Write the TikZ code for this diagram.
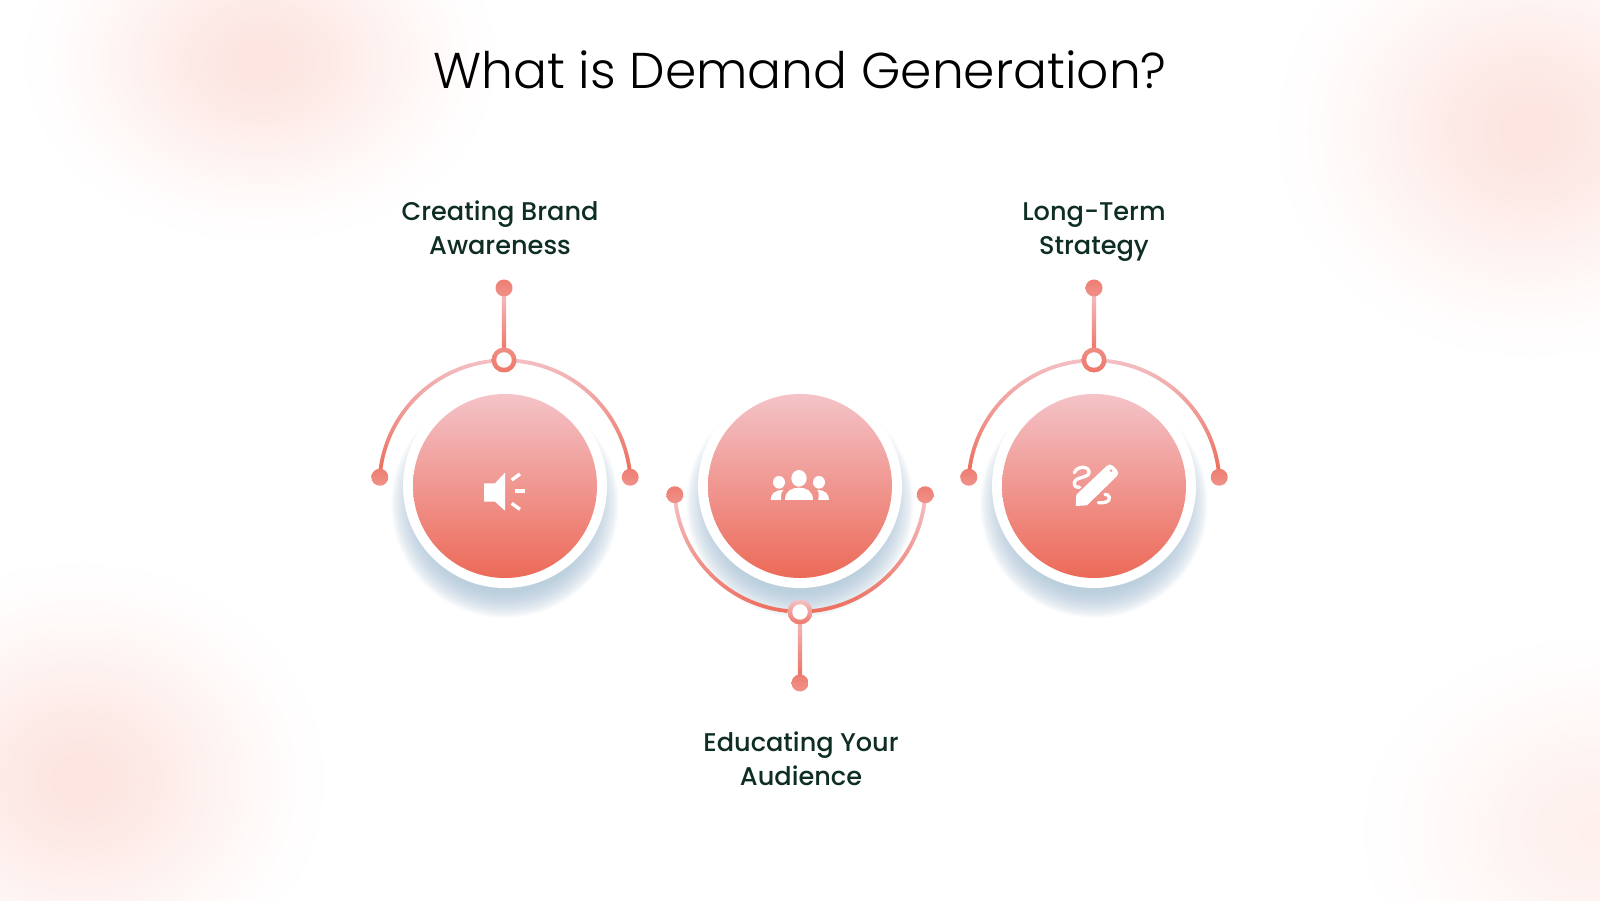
\documentclass[tikz,border=0pt]{standalone}
\usepackage{fontspec}
\setmainfont{Poppins}
\newfontfamily\titlefont{Poppins Light}
\newfontfamily\labelfont{Poppins Medium}
\usetikzlibrary{calc}
\definecolor{lt}{HTML}{F4C3C8}
\definecolor{dk}{HTML}{EC6A58}
\definecolor{ink}{HTML}{0F2E22}
\definecolor{blobA}{HTML}{FDE5E1}
\definecolor{blobB}{HTML}{FEF0ED}
\definecolor{shadowc}{HTML}{A9C3D8}
\newcommand{\bellstops}[1]{color(0bp)=(#1); color(2.5bp)=(#1!96!white); color(5bp)=(#1!88!white); color(7.5bp)=(#1!76!white); color(10bp)=(#1!60!white); color(12.5bp)=(#1!45!white); color(15bp)=(#1!31!white); color(17.5bp)=(#1!18!white); color(20bp)=(#1!8!white); color(22.5bp)=(#1!2!white); color(25bp)=(white); color(50bp)=(white)}
\pgfdeclareradialshading{bellA}{\pgfpoint{0bp}{0bp}}{\bellstops{blobA}}
\pgfdeclareradialshading{bellB}{\pgfpoint{0bp}{0bp}}{\bellstops{blobB}}
\pgfdeclarelayer{bottom}
\pgfdeclarelayer{stems}
\pgfsetlayers{bottom,stems,main}
\tikzset{
  x=1pt,y=1pt,
  titletext/.style={font=\titlefont\fontsize{50.3}{60}\selectfont, text=black, inner sep=0pt},
  labeltext/.style={font=\labelfont\fontsize{25.6}{34}\selectfont, text=ink, align=center, inner sep=0pt},
  disc/.style={circle, minimum size=184pt, inner sep=0pt, top color=lt, bottom color=dk},
  hub/.style={circle, minimum size=25pt, inner sep=0pt, top color=#1, bottom color=dk!85!lt},
  hubhole/.style={circle, minimum size=15.5pt, inner sep=0pt, fill=white},
  enddot/.style={circle, minimum size=17pt, inner sep=0pt, top color=dk!78!lt, bottom color=dk!55!lt},
  icon/.style={fill=white, draw=none},
  iconline/.style={draw=white, line width=3.2pt, fill=none},
  barstyle/.style={top color=lt, bottom color=dk},
}
% soft shadow under a disc, then the white ring
\newcommand{\halo}[1]{%
  \foreach \r in {114,113,...,88}{\fill[shadowc, fill opacity=.042] ($(#1)+(0,-18)$) circle (\r);}
  \fill[white] (#1) circle (102);
}
\begin{document}
\begin{tikzpicture}
\useasboundingbox (0,0) rectangle (1600,900);
\begin{pgfonlayer}{bottom}
\fill[white] (0,0) rectangle (1600,900);
\begin{scope}
\clip (0,0) rectangle (1600,900);
\path[shading=bellA] (260,840) ellipse (260 and 200);
\path[shading=bellA] (1530,770) ellipse (280 and 250);
\path[shading=bellA] (80,120) ellipse (270 and 240);
\path[shading=bellB] (1600,70) ellipse (270 and 220);
\end{scope}
\end{pgfonlayer}

\coordinate (c1) at (505,414);
\coordinate (c2) at (800,414);
\coordinate (c3) at (1094,414);
\begin{pgfonlayer}{bottom}
\halo{c1}\halo{c2}\halo{c3}
\end{pgfonlayer}

\node[disc] (d1) at (c1) {};
\node[disc] (d2) at (c2) {};
\node[disc] (d3) at (c3) {};

% end dots and hubs
\node[enddot] (l1) at ($(c1)+(176:125.5)$) {};
\node[enddot] (r1) at ($(c1)+(4:125.5)$) {};
\node[enddot] (l2) at ($(c2)+(-176:125.5)$) {};
\node[enddot] (r2) at ($(c2)+(-4:125.5)$) {};
\node[enddot] (l3) at ($(c3)+(176:125.5)$) {};
\node[enddot] (r3) at ($(c3)+(4:125.5)$) {};
\node[enddot] (t1) at (504,612) {};
\node[enddot] (t2) at (800,217) {};
\node[enddot] (t3) at (1094,612) {};
\node[hub=dk!60!lt] (h1) at (504,540) {};
\node[hubhole] (h1i) at (h1) {};
\node[hub=lt] (h2) at (800,288) {};
\node[hubhole] (h2i) at (h2) {};
\node[hub=dk!60!lt] (h3) at (1094,540) {};
\node[hubhole] (h3i) at (h3) {};

\begin{pgfonlayer}{stems}
% stems
\path[barstyle] ($(t1.center)+(-2.2,0)$) rectangle ($(h1.center)+(2.2,0)$);
\path[barstyle] ($(h2.center)+(-2.2,0)$) rectangle ($(t2.center)+(2.2,0)$);
\path[barstyle] ($(t3.center)+(-2.2,0)$) rectangle ($(h3.center)+(2.2,0)$);
% upper arcs
\foreach \c in {c1,c3}{
  \path[barstyle]
    ($(\c)+(4:127.5)$) arc[start angle=4,end angle=176,radius=127.5]
    -- ($(\c)+(176:123.7)$) arc[start angle=176,end angle=4,radius=123.7] -- cycle;
}
% lower arc
\path[barstyle]
  ($(c2)+(-4:127.5)$) arc[start angle=-4,end angle=-176,radius=127.5]
  -- ($(c2)+(-176:123.7)$) arc[start angle=-176,end angle=-4,radius=123.7] -- cycle;
\end{pgfonlayer}

% speaker icon
\begin{scope}[shift={(460,450)}, x=.3333pt, y=-.3333pt]
  \fill[icon] (72,100) -- (105,100) -- (135,68) -- (135,182) -- (105,155) -- (72,155) -- cycle;
  \draw[iconline,line width=3.4pt] (155,90) -- (180,72);
  \draw[iconline,line width=3.4pt] (166,123) -- (196,123);
  \draw[iconline,line width=3.4pt] (155,160) -- (180,178);
\end{scope}
% people icon
\begin{scope}[shift={(755,445)}, x=.3333pt, y=-.3333pt]
  \fill[icon] (132,70) ellipse (23 and 25);
  \fill[icon] (90,135) .. controls (90,108) and (110,98) .. (132,98) .. controls (154,98) and (174,108) .. (174,135) -- cycle;
  \fill[icon] (72,82) ellipse (18 and 19);
  \fill[icon] (47,135) .. controls (47,118) and (58,105) .. (85,105) .. controls (76,115) and (78,125) .. (78,135) -- cycle;
  \fill[icon] (192,82) ellipse (18 and 19);
  \fill[icon] (222,135) .. controls (222,118) and (212,105) .. (187,105) .. controls (194,115) and (190,125) .. (190,135) -- cycle;
\end{scope}
% pencil icon
\begin{scope}[shift={(1055,450)}, x=.3333pt, y=-.3333pt]
  \fill[icon,even odd rule] (62,168) -- (64,134) -- (155,48) .. controls (162,42) and (168,42) .. (174,48) -- (186,60) .. controls (191,66) and (191,72) .. (186,78) -- (96,166) -- cycle
    (168,62) circle (5);
  \draw[iconline,line width=3.3pt,line cap=round] (58,68) .. controls (68,45) and (104,48) .. (102,68) .. controls (100,85) and (60,80) .. (58,98) .. controls (57,108) and (64,113) .. (74,112);
  \draw[iconline,line width=3.3pt,line cap=round] (130,158) .. controls (150,160) and (165,155) .. (163,142) .. controls (162,136) and (156,133) .. (150,133);
\end{scope}

% text
\node[titletext] (title) at (800,830) {What is Demand Generation?};
\node[labeltext] (lab1) at (500,672) {Creating Brand\\Awareness};
\node[labeltext] (lab3) at (1094,668) {Long-Term\\Strategy};
\node[labeltext] (lab2) at (801,141) {Educating Your\\Audience};
\end{tikzpicture}
\end{document}
